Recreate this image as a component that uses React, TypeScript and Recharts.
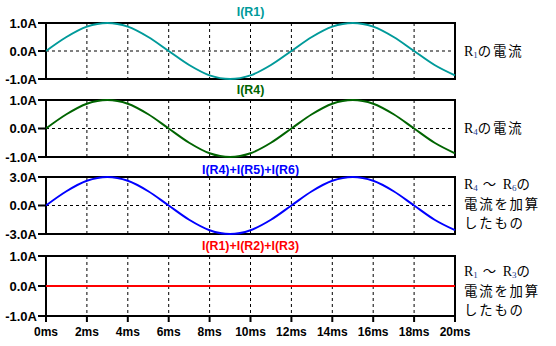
import {
	CartesianGrid,
	Line,
	LineChart,
	ReferenceArea,
	XAxis,
	YAxis,
} from 'recharts';

// time axis, 1 ms steps
const times = [0, 1, 2, 3, 4, 5, 6, 7, 8, 9, 10, 11, 12, 13, 14, 15, 16, 17, 18, 19, 20];
const timeTicks = [0, 2, 4, 6, 8, 10, 12, 14, 16, 18, 20];

const iR1 = [0, 0.5, 0.87, 1, 0.87, 0.5, 0, -0.5, -0.87, -1, -0.87, -0.5, 0, 0.5, 0.87, 1, 0.87, 0.5, 0, -0.5, -0.87];
const iR4 = [0, 0.5, 0.87, 1, 0.87, 0.5, 0, -0.5, -0.87, -1, -0.87, -0.5, 0, 0.5, 0.87, 1, 0.87, 0.5, 0, -0.5, -0.87];
const iR456 = [0, 1.5, 2.6, 3, 2.6, 1.5, 0, -1.5, -2.6, -3, -2.6, -1.5, 0, 1.5, 2.6, 3, 2.6, 1.5, 0, -1.5, -2.6];
const iR123 = [0, 0, 0, 0, 0, 0, 0, 0, 0, 0, 0, 0, 0, 0, 0, 0, 0, 0, 0, 0, 0];

const panels = [
	{ key: 'r1', title: 'I(R1)', color: '#009a9a', values: iR1, yMax: 1, top: 23, height: 56, titleY: 12 },
	{ key: 'r4', title: 'I(R4)', color: '#006400', values: iR4, yMax: 1, top: 100, height: 57, titleY: 90 },
	{ key: 'r456', title: 'I(R4)+I(R5)+I(R6)', color: '#0000ff', values: iR456, yMax: 3, top: 177, height: 57, titleY: 170 },
	{ key: 'r123', title: 'I(R1)+I(R2)+I(R3)', color: '#ff0000', values: iR123, yMax: 1, top: 256, height: 60, titleY: 246 },
];

const boldFont = '"Liberation Sans", Arial, sans-serif';
const jpFont = '"Noto Sans CJK JP", sans-serif';
const serifFont = '"Liberation Serif", "Times New Roman", serif';

function Sub({ n }: { n: string }) {
	return (
		<span style={{ fontFamily: serifFont, fontSize: 14, color: '#000', letterSpacing: 0 }}>
			R
			<span style={{ fontSize: 9, position: 'relative', top: 2, color: '#1a3c8c' }}>{n}</span>
		</span>
	);
}

function Note({ top, lines }: { top: number; lines: React.ReactNode[] }) {
	return (
		<div
			style={{
				position: 'absolute',
				left: 464,
				top,
				fontFamily: jpFont,
				fontSize: 13.4,
				lineHeight: '19.5px',
				letterSpacing: 1.8,
				color: '#000',
				whiteSpace: 'nowrap',
			}}
		>
			{lines.map((l, i) => (
				<div key={i} style={{ height: 19.5 }}>{l}</div>
			))}
		</div>
	);
}

export default function App() {
	return (
		<div
			style={{
				position: 'absolute',
				left: 0,
				top: 0,
				width: 556,
				height: 346,
				background: '#fff',
				overflow: 'hidden',
			}}
		>
			{panels.map((p, idx) => {
				const last = idx === panels.length - 1;
				const data = times.map((t, i) => ({ t, v: p.values[i] }));
				const mt = 9;
				const mb = last ? 0 : 9;
				const axisH = last ? 30 : 0;
				return (
					<div key={p.key}>
						<div
							style={{
								position: 'absolute',
								left: 0,
								width: 501,
								top: p.titleY - 8,
								lineHeight: '16px',
								textAlign: 'center',
								fontFamily: boldFont,
								fontWeight: 700,
								fontSize: 12.4,
								color: p.color,
							}}
						>
							{p.title}
						</div>
						<div style={{ position: 'absolute', left: 0, top: p.top - mt }}>
							<LineChart
								width={556}
								height={p.height + mt + mb + axisH}
								data={data}
								margin={{ top: mt, right: 101, bottom: mb, left: 0 }}
							>
								<CartesianGrid stroke="#000" strokeDasharray="3 3" />
								<XAxis
									dataKey="t"
									type="number"
									domain={[0, 20]}
									ticks={timeTicks}
									interval={0}
									hide={!last}
									height={30}
									axisLine={false}
									tickLine={{ stroke: '#000', strokeWidth: 2 }}
									tickSize={6}
									tickMargin={5}
									tickFormatter={(v) => `${v}ms`}
									tick={{ fill: '#000', fontFamily: boldFont, fontWeight: 700, fontSize: 12 }}
								/>
								<YAxis
									type="number"
									domain={[-p.yMax, p.yMax]}
									ticks={[-p.yMax, 0, p.yMax]}
									interval={0}
									width={46}
									axisLine={false}
									tickLine={{ stroke: '#000', strokeWidth: 2 }}
									tickSize={8}
									tickMargin={1}
									tickFormatter={(v) => `${Number(v).toFixed(1)}A`}
									tick={{ fill: '#000', fontFamily: boldFont, fontWeight: 700, fontSize: 13 }}
								/>
								<Line
									type="monotone"
									dataKey="v"
									stroke={p.color}
									strokeWidth={2}
									dot={false}
									isAnimationActive={false}
								/>
								<ReferenceArea
									x1={0}
									x2={20}
									y1={-p.yMax}
									y2={p.yMax}
									fill="none"
									fillOpacity={0}
									stroke="#000"
									strokeWidth={2}
									ifOverflow="visible"
								/>
							</LineChart>
						</div>
					</div>
				);
			})}

			<Note top={41} lines={[<><Sub n="1" />の電流</>]} />
			<Note top={118} lines={[<><Sub n="4" />の電流</>]} />
			<Note
				top={174}
				lines={[
					<><Sub n="4" /> ～ <Sub n="6" />の</>,
					'電流を加算',
					'したもの',
				]}
			/>
			<Note
				top={261}
				lines={[
					<><Sub n="1" /> ～ <Sub n="3" />の</>,
					'電流を加算',
					'したもの',
				]}
			/>
		</div>
	);
}
